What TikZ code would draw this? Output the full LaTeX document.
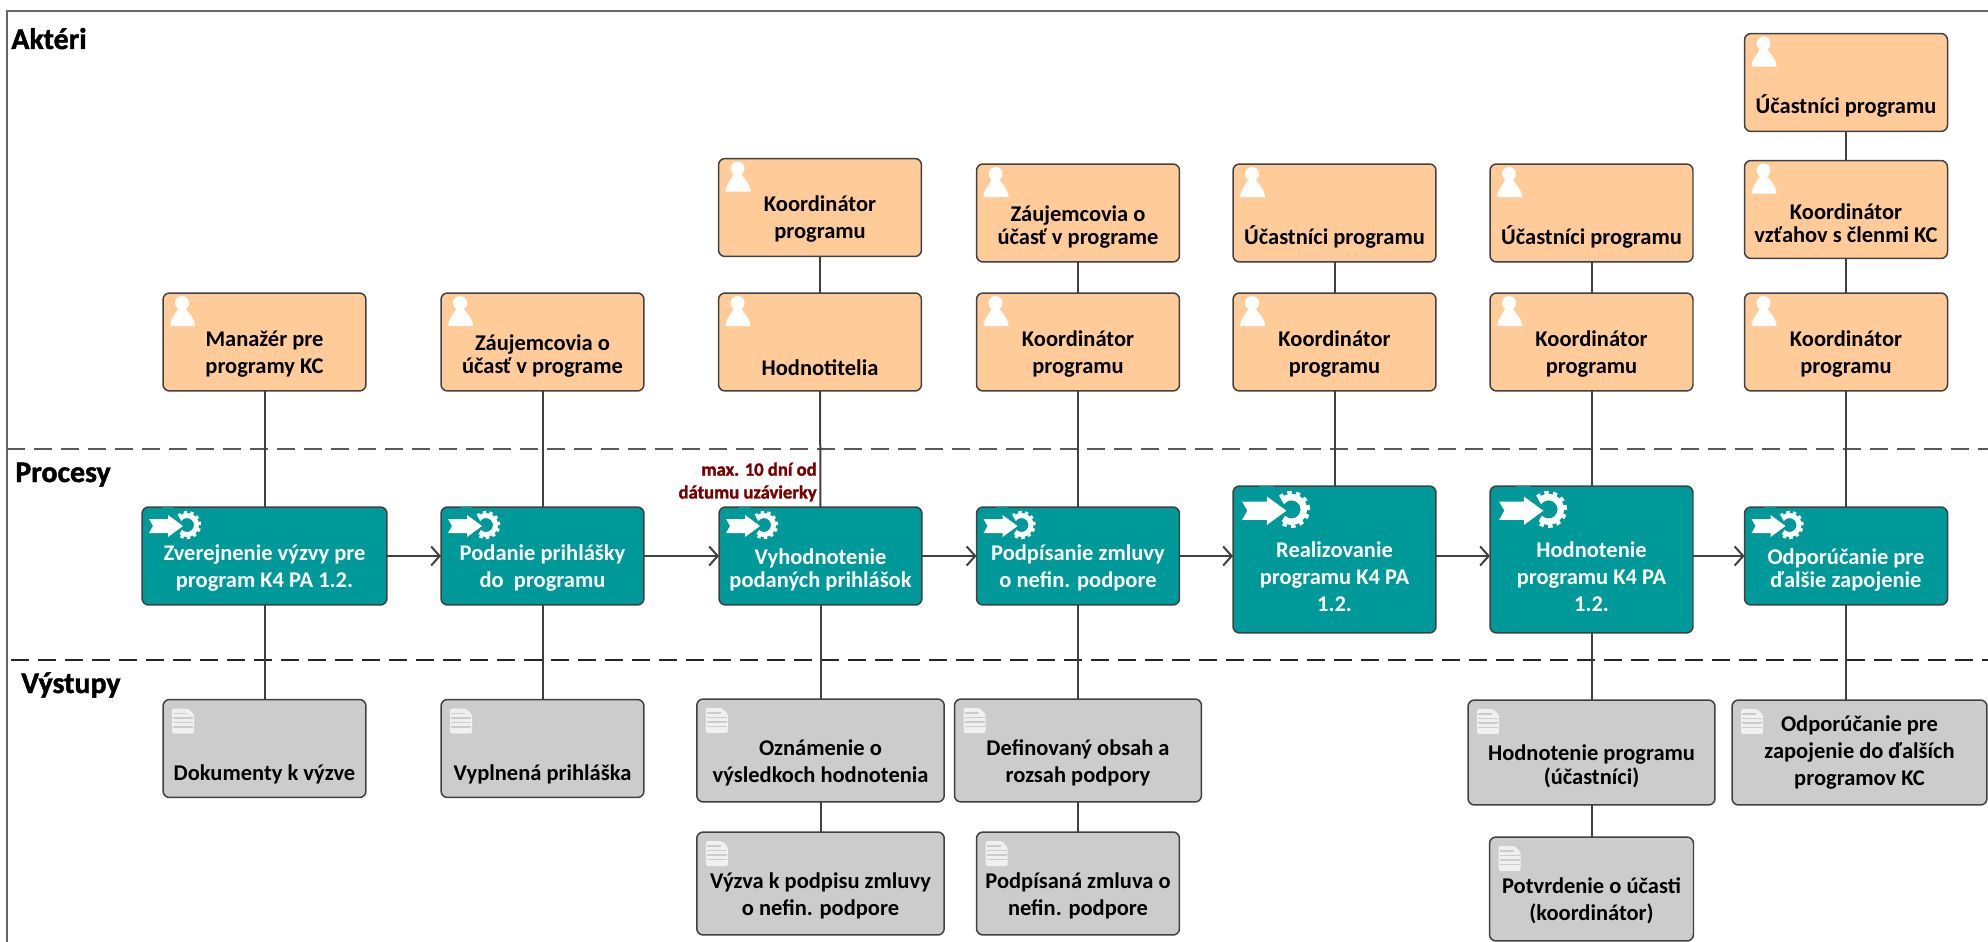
\documentclass[tikz,border=0pt]{standalone}
\usepackage{fontspec}
\setmainfont{Carlito}
\newfontfamily\headfont{Carlito}[BoldFeatures={FakeBold=1.5}]
\usepackage{tikz}
\usetikzlibrary{arrows.meta}
\definecolor{actorfill}{HTML}{FFCC99}
\definecolor{procfill}{HTML}{009999}
\definecolor{outfill}{HTML}{CCCCCC}
\definecolor{linedark}{HTML}{404040}
\definecolor{notered}{HTML}{7A0000}
\tikzset{
  boxlift/.style={execute at begin node={\rule{0pt}{#1}}},
  anybox/.style={draw=linedark,line width=0.03cm,rounded corners=0.13cm,outer sep=0pt,align=center,
    minimum width=4.06cm,minimum height=1.96cm,font=\fontsize{12.8}{15.4}\selectfont\bfseries,
    boxlift=38pt},
  actor/.style={anybox,fill=actorfill,text=black},
  procbox/.style={anybox,fill=procfill,text=white},
  outbox/.style={anybox,fill=outfill,text=black},
  single/.style={boxlift=25pt},
  tall/.style={minimum height=2.94cm,boxlift=59pt},
  tight/.style={font=\fontsize{12.8}{13.2}\selectfont\bfseries,boxlift=36pt},
  heading/.style={anchor=base west,font=\fontsize{17}{20}\headfont\bfseries},
  link/.style={draw=linedark,line width=0.04cm},
  flow/.style={link,-{Straight Barb[length=0.17cm,width=0.38cm,line width=0.04cm]}},
  sepline/.style={dash pattern=on 0.36cm off 0.18cm,line width=0.03cm},
  personicon/.pic={
    \fill [white] (19,-10) circle (7);
    \fill [white] (7,-33) .. controls (8,-24) and (13,-21) .. (15,-16) -- (23,-16) .. controls (26,-21) and (31,-24) .. (32,-33) -- cycle;
  },
  docicon/.pic={
    \fill [white!94!black,rounded corners=0.03cm] (9,-9) -- (25,-9) -- (31,-15) -- (31,-34) -- (9,-34) -- cycle;
    \draw [outfill,line width=0.03cm] (10,-14) -- (24,-14);
    \draw [outfill,line width=0.03cm] (10,-18.5) -- (30,-18.5);
    \draw [outfill,line width=0.03cm] (10,-23) -- (30,-23);
    \draw [outfill,line width=0.03cm] (10,-27.5) -- (30,-27.5);
  },
  procicon/.pic={
    \begin{scope}[scale=#1]
    \draw [white,line width=#1*0.1cm] (45,-18) circle (9.5);
    \draw [white,line width=#1*0.07cm,dash pattern=on #1*0.065cm off #1*0.065cm] (45,-18) circle (12.5);
    \fill [procfill] (42,-19) -- (31,0) -- (20,0) -- (20,-38) -- (31,-38) -- cycle;
    \fill [white] (7,-12) -- (26,-12) -- (26,-8) -- (41,-19) -- (26,-30) -- (26,-26) -- (7,-26) -- (11,-19) -- cycle;
    \end{scope}
  }
}
\begin{document}
\begin{tikzpicture}[x=0.02cm,y=0.02cm]
            \tikzstyle{every node}+=[inner sep=0pt]
            \useasboundingbox (0,0) rectangle (1988,-942);
            \draw [black!60,line width=0.035cm] (7,-942) -- (7,-11) -- (1988,-11);
            \draw [black!65,sepline] (7,-449) -- (1988,-449);
            \draw [black!85,sepline] (11,-660) -- (1988,-660);
            \node [heading] (lblactors) at (11,-49) {Aktéri};
            \node [heading] (lblprocess) at (15,-482) {Procesy};
            \node [heading] (lbloutputs) at (21,-693) {Výstupy};
            \node [actor] (a1) at (264.5,-342) {Manažér pre\\programy KC};
            \node [actor,tight] (a2) at (542.5,-342) {Záujemcovia o\\účasť v programe};
            \node [actor] (a3top) at (820,-207.5) {Koordinátor\\programu};
            \node [actor,single] (a3) at (820,-342) {Hodnotitelia};
            \node [actor,tight] (a4top) at (1078,-213) {Záujemcovia o\\účasť v programe};
            \node [actor] (a4) at (1078,-342) {Koordinátor\\programu};
            \node [actor,single] (a5top) at (1334.5,-213) {Účastníci programu};
            \node [actor] (a5) at (1334.5,-342) {Koordinátor\\programu};
            \node [actor,single] (a6top) at (1591.5,-213) {Účastníci programu};
            \node [actor] (a6) at (1591.5,-342) {Koordinátor\\programu};
            \node [actor,single] (a7top) at (1846,-82.5) {Účastníci programu};
            \node [actor,tight] (a7mid) at (1846,-209.5) {Koordinátor\\vzťahov s členmi KC};
            \node [actor] (a7) at (1846,-342) {Koordinátor\\programu};
            \node [procbox,minimum width=4.9cm] (p1) at (264.5,-556) {Zverejnenie výzvy pre\\program K4 PA 1.2.};
            \node [procbox] (p2) at (542.5,-556) {Podanie prihlášky\\do\ \ programu};
            \node [procbox,tight] (p3) at (820.5,-556) {Vyhodnotenie\\podaných prihlášok};
            \node [procbox] (p4) at (1078,-556) {Podpísanie zmluvy\\o nefin. podpore};
            \node [procbox,tall] (p5) at (1334.5,-559.5) {Realizovanie\\programu K4 PA\\1.2.};
            \node [procbox,tall] (p6) at (1591.5,-559.5) {Hodnotenie\\programu K4 PA\\1.2.};
            \node [procbox,tight] (p7) at (1846,-556) {Odporúčanie pre\\ďalšie zapojenie};
            \node [anchor=east,align=right,text=notered,font=\fontsize{10.6}{13}\headfont\bfseries] (deadline) at (817,-482) {max. 10 dní od\\dátumu uzávierky};
            \node [outbox,single] (o1) at (264.5,-748.5) {Dokumenty k výzve};
            \node [outbox,single] (o2) at (542.5,-748.5) {Vyplnená prihláška};
            \node [outbox,minimum width=4.95cm,minimum height=2.06cm] (o3) at (820.5,-750.5) {Oznámenie o\\výsledkoch hodnotenia};
            \node [outbox,minimum width=4.95cm,minimum height=2.06cm] (o3low) at (820.5,-883.5) {Výzva k podpisu zmluvy\\o nefin. podpore};
            \node [outbox,minimum width=4.94cm,minimum height=2.06cm] (o4) at (1078,-750.5) {Definovaný obsah a\\rozsah podpory};
            \node [outbox,minimum height=2.06cm] (o4low) at (1078,-883.5) {Podpísaná zmluva o\\nefin. podpore};
            \node [outbox,tight,minimum width=4.94cm,minimum height=2.1cm] (o6) at (1591.5,-752.5) {Hodnotenie programu\\(účastníci)};
            \node [outbox,minimum width=4.08cm,minimum height=2.08cm] (o6low) at (1591.5,-889) {Potvrdenie o účasti\\(koordinátor)};
            \node [outbox,minimum width=5.1cm,minimum height=2.1cm,boxlift=0pt] (o7) at (1859.5,-752.5) {Odporúčanie pre\\zapojenie do ďalších\\programov KC};
            \pic at (a1.north west) {personicon};
            \pic at (a2.north west) {personicon};
            \pic at (a3top.north west) {personicon};
            \pic at (a3.north west) {personicon};
            \pic at (a4top.north west) {personicon};
            \pic at (a4.north west) {personicon};
            \pic at (a5top.north west) {personicon};
            \pic at (a5.north west) {personicon};
            \pic at (a6top.north west) {personicon};
            \pic at (a6.north west) {personicon};
            \pic at (a7top.north west) {personicon};
            \pic at (a7mid.north west) {personicon};
            \pic at (a7.north west) {personicon};
            \pic at (p1.north west) {procicon=1};
            \pic at (p2.north west) {procicon=1};
            \pic at (p3.north west) {procicon=1};
            \pic at (p4.north west) {procicon=1};
            \pic at (p5.north west) {procicon=1.3};
            \pic at (p6.north west) {procicon=1.3};
            \pic at (p7.north west) {procicon=1};
            \pic at (o1.north west) {docicon};
            \pic at (o2.north west) {docicon};
            \pic at (o3.north west) {docicon};
            \pic at (o3low.north west) {docicon};
            \pic at (o4.north west) {docicon};
            \pic at (o4low.north west) {docicon};
            \pic at (o6.north west) {docicon};
            \pic at (o6low.north west) {docicon};
            \pic at (o7.north west) {docicon};
            \draw [link] (a1) -- (p1);
            \draw [link] (a2) -- (p2);
            \draw [link] (a3top) -- (a3);
            \draw [link] (a3) -- (p3);
            \draw [link] (a4top) -- (a4);
            \draw [link] (a4) -- (p4);
            \draw [link] (a5top) -- (a5);
            \draw [link] (a5) -- (p5);
            \draw [link] (a6top) -- (a6);
            \draw [link] (a6) -- (p6);
            \draw [link] (a7top) -- (a7mid);
            \draw [link] (a7mid) -- (a7);
            \draw [link] (a7) -- (p7);
            \draw [flow] (p1) -- (p2);
            \draw [flow] (p2) -- (p3);
            \draw [flow] (p3) -- (p4);
            \draw [flow] (p4) -- (p5.west |- p4);
            \draw [flow] (p5.east |- p4) -- (p6.west |- p4);
            \draw [flow] (p6.east |- p7) -- (p7);
            \draw [link] (p1) -- (o1);
            \draw [link] (p2) -- (o2);
            \draw [link] (p3) -- (o3);
            \draw [link] (o3) -- (o3low);
            \draw [link] (p4) -- (o4);
            \draw [link] (o4) -- (o4low);
            \draw [link] (p6) -- (o6);
            \draw [link] (o6) -- (o6low);
            \draw [link] (p7.south) -- (p7.south |- o7.north);
            \end{tikzpicture}
\end{document}
